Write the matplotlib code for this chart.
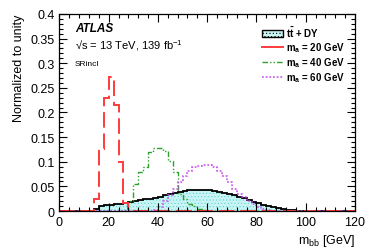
import matplotlib
matplotlib.use("Agg")
import matplotlib.pyplot as plt
import numpy as np
from matplotlib.ticker import MultipleLocator
from matplotlib.patches import Patch
from matplotlib.lines import Line2D

plt.rcParams['font.family'] = ['Liberation Sans', 'DejaVu Sans']
plt.rcParams['mathtext.fontset'] = 'custom'
plt.rcParams['mathtext.rm'] = 'Liberation Sans'
plt.rcParams['mathtext.it'] = 'Liberation Sans:italic'
plt.rcParams['mathtext.bf'] = 'Liberation Sans:bold'
plt.rcParams['hatch.linewidth'] = 0.4

# 2 GeV bins from 0 to 120
edges = np.arange(0, 122, 2)

# ttbar + DY background, starting at 14 GeV
bkg_start = 14
bkg_vals = [0.004, 0.010, 0.012, 0.013, 0.014, 0.015, 0.017, 0.019, 0.020,
            0.022, 0.024, 0.025, 0.027, 0.029, 0.032, 0.035, 0.037, 0.039,
            0.041, 0.042, 0.043, 0.043, 0.043, 0.042, 0.041, 0.039, 0.037,
            0.035, 0.032, 0.029, 0.026, 0.022, 0.019, 0.016, 0.013, 0.010,
            0.008, 0.006, 0.004, 0.003, 0.002, 0.001, 0.0005]

# signal m_a = 20 GeV
sig20_start = 14
sig20_vals = [0.024, 0.125, 0.229, 0.271, 0.215, 0.100, 0.016, 0.004]

# signal m_a = 40 GeV
sig40_start = 26
sig40_vals = [0.003, 0.020, 0.055, 0.080, 0.090, 0.120, 0.128, 0.128, 0.122,
              0.102, 0.080, 0.035, 0.025, 0.015, 0.010, 0.005, 0.002]

# signal m_a = 60 GeV
sig60_start = 38
sig60_vals = [0.002, 0.008, 0.020, 0.033, 0.045, 0.058, 0.072, 0.082, 0.089,
              0.092, 0.094, 0.094, 0.089, 0.082, 0.072, 0.058, 0.045, 0.035,
              0.028, 0.021, 0.014, 0.009, 0.005, 0.003, 0.001]


def full(start, vals):
    h = np.zeros(len(edges) - 1)
    i0 = start // 2
    h[i0:i0 + len(vals)] = vals
    return h


bkg = full(bkg_start, bkg_vals)
sig20 = full(sig20_start, sig20_vals)
sig40 = full(sig40_start, sig40_vals)
sig60 = full(sig60_start, sig60_vals)

fig = plt.figure(figsize=(3.74, 2.53), dpi=100)
ax = fig.add_axes([0.159, 0.162, 0.79, 0.779])

cyan_face = '#c8f4f4'
cyan_hatch = '#60d8d8'
ax.stairs(bkg, edges, fill=True, facecolor=cyan_face, edgecolor=cyan_hatch,
          hatch='.....', linewidth=0)
ax.stairs(bkg, edges, color='black', linewidth=1.3)

red = '#ff3b3b'
green = '#2ca02c'
magenta = '#c94cf0'
ax.stairs(sig40, edges, color=green, linewidth=1.0, linestyle=(0, (4, 1.5, 1, 1.5, 1, 1.5)))
ax.stairs(sig60, edges, color=magenta, linewidth=1.1, linestyle=(0, (1.2, 1.2)))
ax.stairs(sig20, edges, color=red, linewidth=1.4, linestyle=(0, (8, 3)))

ax.set_xlim(0, 120)
ax.set_ylim(0, 0.4)
ax.xaxis.set_major_locator(MultipleLocator(20))
ax.xaxis.set_minor_locator(MultipleLocator(4))
ax.yaxis.set_major_locator(MultipleLocator(0.05))
ax.yaxis.set_minor_locator(MultipleLocator(0.01))
ax.yaxis.set_major_formatter(plt.FuncFormatter(lambda v, p: f"{v:g}"))
ax.tick_params(which='both', direction='in', top=True, right=True, labelsize=9)
ax.tick_params(which='major', length=6, width=0.8)
ax.tick_params(which='minor', length=3, width=0.8)
for s in ax.spines.values():
    s.set_linewidth(0.9)

ax.set_ylabel('Normalized to unity', fontsize=9, loc='top')
ax.set_xlabel(r'$\mathrm{m_{bb}}$ [GeV]', fontsize=9, loc='right', labelpad=3)

ax.text(0.052, 0.93, 'ATLAS', transform=ax.transAxes, fontsize=8.5,
        fontweight='bold', fontstyle='italic', va='center')
ax.text(0.052, 0.845, '\u221as = 13 TeV, 139 fb$^{-1}$', transform=ax.transAxes,
        fontsize=8, va='center')
ax.text(0.052, 0.75, 'SRincl', transform=ax.transAxes, fontsize=6, va='center')

handles = [
    Patch(facecolor=cyan_face, edgecolor='black', hatch='.....', linewidth=1.0),
    Line2D([], [], color=red, linewidth=1.4),
    Line2D([], [], color=green, linewidth=1.0, linestyle=(0, (4, 1.5, 1, 1.5, 1, 1.5))),
    Line2D([], [], color=magenta, linewidth=1.1, linestyle=(0, (1.2, 1.2))),
]
labels = [r'$\mathbf{t\bar{t}}$ + DY',
          r'$\mathbf{m_{a}}$ = 20 GeV',
          r'$\mathbf{m_{a}}$ = 40 GeV',
          r'$\mathbf{m_{a}}$ = 60 GeV']
leg = ax.legend(handles, labels, loc='upper left', bbox_to_anchor=(0.68, 0.955),
                frameon=False, prop={'size': 7, 'weight': 'bold'},
                handlelength=2.1, handleheight=0.7, handletextpad=0.3,
                labelspacing=0.12, borderaxespad=0.0, borderpad=0.2)

fig.savefig('out.png', dpi=100)
